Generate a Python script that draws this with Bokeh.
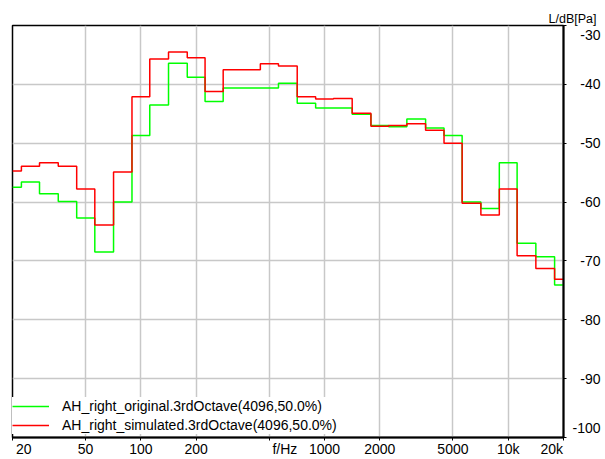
from bokeh.plotting import figure
from bokeh.models import FixedTicker, Legend, LegendItem, Range1d, Title
from bokeh.embed import file_html
from bokeh.resources import INLINE

# 1/3-octave band centre frequencies (Hz)
freqs = [20, 25, 31.5, 40, 50, 63, 80, 100, 125, 160, 200, 250, 315, 400, 500, 630, 800,
         1000, 1250, 1600, 2000, 2500, 3150, 4000, 5000, 6300, 8000, 10000, 12500, 16000, 20000]

original = [-57.5, -56.6, -58.6, -59.9, -62.7, -68.5, -60.0,
            -48.7, -43.5, -36.4, -38.8, -42.9,
            -40.6, -40.6, -40.6, -39.8, -43.2,
            -44.0, -44.0, -45.1, -47.0, -47.2,
            -45.9, -47.4, -48.7, -60.0, -61.1,
            -53.3, -67.0, -69.3, -74.1]

simulated = [-54.7, -53.9, -53.3, -53.9, -57.8, -63.9, -54.9,
             -42.1, -35.7, -34.5, -35.5, -41.2,
             -37.5, -37.5, -36.5, -36.9, -42.1,
             -42.5, -42.4, -44.9, -47.1, -47.0,
             -46.7, -47.8, -50.0, -60.2, -62.2,
             -57.8, -69.1, -71.3, -73.1]

series_names = ["AH_right_original.3rdOctave(4096,50.0%)",
                "AH_right_simulated.3rdOctave(4096,50.0%)"]

x_ticks = [20, 50, 100, 200, 500, 1000, 2000, 5000, 10000, 20000]
x_tick_labels = ["20", "50", "100", "200", "f/Hz", "1000", "2000", "5000", "10k", "20k"]
y_ticks = [-30, -40, -50, -60, -70, -80, -90, -100]
y_tick_labels = ["-30", "-40", "-50", "-60", "-70", "-80", "-90", "-100"]
y_title = "L/dB[Pa]"

FONT = "Liberation Sans"
FS = "14px"
FIG = "\u2007"  # figure space (digit width), used to nudge edge labels inward

x_lo, x_hi = 20, 20000
y_lo, y_hi = -100, -30

p = figure(width=605, height=459, x_axis_type="log",
           x_range=Range1d(x_lo, x_hi), y_range=Range1d(y_lo, y_hi),
           y_axis_location="right", output_backend="svg", toolbar_location=None,
           min_border_left=12, min_border_right=42, min_border_top=25, min_border_bottom=20)
p.background_fill_color = "white"
p.border_fill_color = "white"
p.outline_line_color = "black"
p.outline_line_width = 1.5

# x axis labels: edge labels pulled inside the frame, "f/Hz" sits right of its tick
x_over = {}
for t, lab in zip(x_ticks, x_tick_labels):
    if t == x_lo:
        lab = FIG * 2 + lab
    elif t == x_hi:
        lab = lab + FIG * 3
    elif lab == "f/Hz":
        lab = FIG * 4 + lab
    x_over[t] = lab

# y axis labels: right-aligned look, edge labels pulled inside the frame
widest = max(len(s) for s in y_tick_labels)
y_over = {}
for t, lab in zip(y_ticks, y_tick_labels):
    lab = FIG * (widest - len(lab)) + lab
    if t == y_hi:
        lab = "\n" + lab
    elif t == y_lo:
        lab = lab + "\n"
    y_over[t] = lab

p.xaxis.ticker = FixedTicker(ticks=x_ticks)
p.xaxis.major_label_overrides = x_over
p.yaxis.ticker = FixedTicker(ticks=y_ticks)
p.yaxis.major_label_overrides = y_over
for ax in (p.xaxis[0], p.yaxis[0]):
    ax.axis_line_color = "black"
    ax.axis_line_width = 2
    ax.major_tick_line_color = "black"
    ax.major_tick_out = 3
    ax.major_tick_in = 0
    ax.minor_tick_line_color = None
    ax.major_label_text_font = FONT
    ax.major_label_text_font_size = FS
    ax.major_label_text_color = "black"
p.xaxis.major_label_standoff = 0
p.yaxis.major_label_standoff = 6

p.xgrid.grid_line_color = "#C8C8C8"
p.xgrid.grid_line_width = 1.5
p.ygrid.grid_line_color = "#C8C8C8"
p.ygrid.grid_line_width = 1.5

r_orig = p.step(freqs, original, mode="center", line_color="#00FF00", line_width=1.5)
r_sim = p.step(freqs, simulated, mode="center", line_color="#FF0000", line_width=1.5)

legend = Legend(items=[LegendItem(label=series_names[0], renderers=[r_orig]),
                       LegendItem(label=series_names[1], renderers=[r_sim])],
                location=(0, 3), margin=0, padding=4, spacing=1,
                glyph_width=37, glyph_height=18, label_height=18, label_standoff=13,
                border_line_color=None, background_fill_color="white", background_fill_alpha=1.0,
                label_text_font=FONT, label_text_font_size=FS, label_text_color="black")
p.add_layout(legend)

p.add_layout(Title(text=y_title, align="right", offset=-33, standoff=0,
                   vertical_align="bottom", text_font=FONT, text_font_size="12.5px",
                   text_font_style="normal", text_color="black"), "above")

open("out.html", "w").write(file_html(p, INLINE))
